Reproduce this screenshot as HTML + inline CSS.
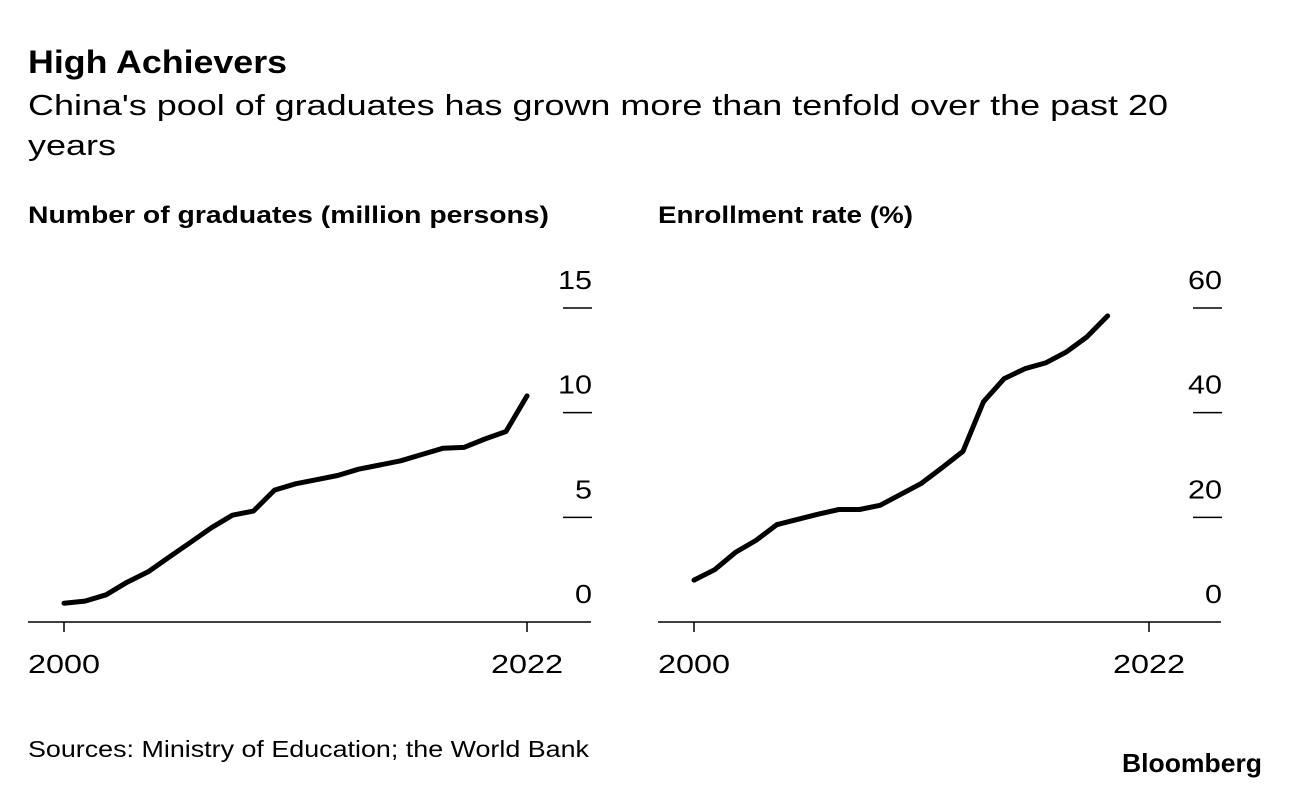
<!DOCTYPE html>
<html><head><meta charset="utf-8"><style>
body{margin:0;background:#fff;width:1289px;height:788px;overflow:hidden;font-family:"Liberation Sans",sans-serif;color:#000}
</style></head><body>
<svg width="1289" height="788" xmlns="http://www.w3.org/2000/svg" font-family="Liberation Sans, sans-serif">
<text x="28" y="73" font-size="32" font-weight="bold" textLength="259" lengthAdjust="spacingAndGlyphs">High Achievers</text>
<text x="28" y="115" font-size="29" textLength="1140" lengthAdjust="spacingAndGlyphs">China's pool of graduates has grown more than tenfold over the past 20</text>
<text x="28" y="155" font-size="29" textLength="88" lengthAdjust="spacingAndGlyphs">years</text>
<text x="28" y="223" font-size="24" font-weight="bold" textLength="521" lengthAdjust="spacingAndGlyphs">Number of graduates (million persons)</text>
<text x="658" y="223" font-size="24" font-weight="bold" textLength="255" lengthAdjust="spacingAndGlyphs">Enrollment rate (%)</text>
<g id="left"></g>
<g id="right"></g>
<text x="28" y="757" font-size="23" textLength="561" lengthAdjust="spacingAndGlyphs">Sources: Ministry of Education; the World Bank</text>
<text x="1122" y="772" font-size="26" font-weight="bold" textLength="140" lengthAdjust="spacingAndGlyphs">Bloomberg</text>
</svg>
<script>
const gradYears=[2000,2001,2002,2003,2004,2005,2006,2007,2008,2009,2010,2011,2012,2013,2014,2015,2016,2017,2018,2019,2020,2021,2022];
const gradValues=[0.9,1.0,1.3,1.9,2.4,3.1,3.8,4.5,5.1,5.3,6.3,6.6,6.8,7.0,7.3,7.5,7.7,8.0,8.3,8.34,8.74,9.1,10.8];
const gradTicks=[0,5,10,15];
const enrollYears=[2000,2001,2002,2003,2004,2005,2006,2007,2008,2009,2010,2011,2012,2013,2014,2015,2016,2017,2018,2019,2020];
const enrollValues=[8.0,10.0,13.3,15.6,18.6,19.6,20.6,21.5,21.5,22.3,24.4,26.5,29.5,32.6,42.1,46.5,48.4,49.5,51.6,54.5,58.5];
const enrollTicks=[0,20,40,60];
const NS="http://www.w3.org/2000/svg";
function el(tag,attrs,parent){const e=document.createElementNS(NS,tag);for(const k in attrs)e.setAttribute(k,attrs[k]);parent.appendChild(e);return e;}
function panel(gid,x0,x1,axisL,axisR,tickX,yMax,years,vals,ticks){
  const g=document.getElementById(gid);
  const xs=y=>x0+(y-2000)/22*(x1-x0);
  const ys=v=>622-v/yMax*314;
  const ax=el('line',{x1:axisL,x2:axisR,y1:622,y2:622,stroke:'#000','stroke-width':1.5},g);
  
  
  ticks.forEach(t=>{
    if(t>0){const l=el('line',{x1:tickX-28,x2:tickX+1,y1:ys(t),y2:ys(t),stroke:'#000','stroke-width':1.5},g);
    
    }
    const s=String(t);
    const tx=el('text',{x:tickX+1,y:ys(t)-19,'font-size':26,'text-anchor':'end',textLength:s.length*17,lengthAdjust:'spacingAndGlyphs'},g);tx.textContent=s;
    
    
  });
  [2000,2022].forEach(y=>{
    const l=el('line',{x1:xs(y),x2:xs(y),y1:622,y2:632,stroke:'#000','stroke-width':1.5},g);
    
    
    const tx=el('text',{x:xs(y)-36,y:673,'font-size':26,textLength:72,lengthAdjust:'spacingAndGlyphs'},g);tx.textContent=y;
    
    
  });
  const d=years.map((y,i)=>(i?'L':'M')+xs(y).toFixed(1)+','+ys(vals[i]).toFixed(1)).join(' ');
  const p=el('path',{d:d,fill:'none',stroke:'#000','stroke-width':5,'stroke-linejoin':'round','stroke-linecap':'round'},g);
  
  
}
panel('left',64,527,28,591,591,15,gradYears,gradValues,gradTicks);
panel('right',694,1149,658,1221,1221,60,enrollYears,enrollValues,enrollTicks);
</script>
</body></html>
